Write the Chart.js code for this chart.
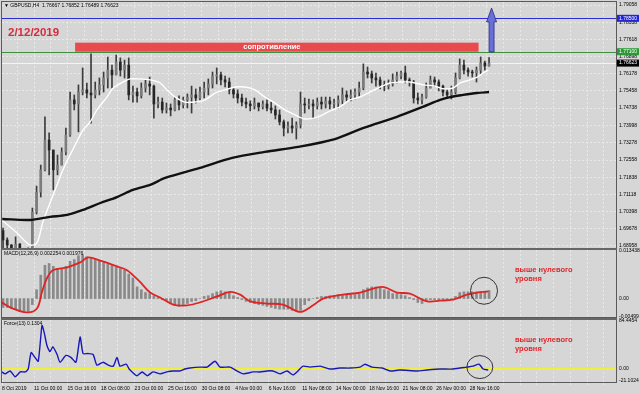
<!DOCTYPE html>
<html>
<head>
<meta charset="utf-8">
<script src="https://cdn.jsdelivr.net/npm/chart.js@4.4.1/dist/chart.umd.min.js"></script>
<style>
  body { margin: 0; background: #d6d6d6; width: 640px; height: 394px; overflow: hidden; position: relative; }
  canvas { position: absolute; left: 0; }
</style>
</head>
<body>
<canvas id="priceChart" width="640" height="250" style="top:0"></canvas>
<canvas id="macdChart" width="640" height="71" style="top:248px"></canvas>
<canvas id="forceChart" width="640" height="76" style="top:318px"></canvas>
<script>
// GBPUSD H4 — candles (one point ~ two H4 bars)
const highs = [
  1.6971,1.6930,1.6902,1.6934,1.6906,1.6884,1.6888,1.7055,1.7147,1.7235,
  1.7437,1.7370,1.7298,1.7277,1.7307,1.7390,1.7541,1.7529,1.7571,1.7642,
  1.7579,1.7701,1.7583,1.7600,1.7625,1.7688,1.7654,1.7696,1.7684,1.7675,
  1.7684,1.7566,1.7558,1.7579,1.7592,1.7604,1.7570,1.7520,1.7516,1.7495,
  1.7491,1.7520,1.7525,1.7520,1.7533,1.7566,1.7554,1.7562,1.7583,1.7596,
  1.7625,1.7642,1.7625,1.7608,1.7600,1.7558,1.7550,1.7533,1.7516,1.7504,
  1.7516,1.7495,1.7504,1.7508,1.7499,1.7483,1.7466,1.7424,1.7416,1.7432,
  1.7416,1.7541,1.7516,1.7512,1.7508,1.7516,1.7520,1.7520,1.7520,1.7512,
  1.7525,1.7558,1.7546,1.7550,1.7554,1.7583,1.7659,1.7646,1.7629,1.7621,
  1.7604,1.7587,1.7592,1.7617,1.7625,1.7629,1.7650,1.7600,1.7590,1.7537,
  1.7533,1.7579,1.7608,1.7604,1.7592,1.7570,1.7550,1.7566,1.7621,1.7680,
  1.7675,1.7642,1.7633,1.7646,1.7688,1.7671,1.7685
];
const lows = [
  1.6871,1.6871,1.6846,1.6858,1.6829,1.6816,1.6829,1.6871,1.7030,1.7101,
  1.7210,1.7194,1.7131,1.7194,1.7235,1.7277,1.7355,1.7466,1.7374,1.7529,
  1.7516,1.7411,1.7516,1.7529,1.7541,1.7558,1.7558,1.7613,1.7608,1.7600,
  1.7508,1.7499,1.7499,1.7516,1.7541,1.7529,1.7432,1.7474,1.7453,1.7453,
  1.7441,1.7462,1.7466,1.7474,1.7474,1.7453,1.7495,1.7508,1.7516,1.7529,
  1.7558,1.7575,1.7571,1.7562,1.7533,1.7516,1.7495,1.7483,1.7474,1.7462,
  1.7470,1.7462,1.7470,1.7462,1.7453,1.7428,1.7403,1.7357,1.7370,1.7370,
  1.7344,1.7390,1.7453,1.7470,1.7432,1.7470,1.7470,1.7474,1.7470,1.7474,
  1.7474,1.7491,1.7504,1.7504,1.7512,1.7525,1.7550,1.7600,1.7579,1.7566,
  1.7554,1.7546,1.7554,1.7566,1.7579,1.7596,1.7579,1.7566,1.7495,1.7491,
  1.7491,1.7515,1.7558,1.7566,1.7546,1.7525,1.7516,1.7512,1.7533,1.7596,
  1.7617,1.7608,1.7604,1.7583,1.7617,1.7633,1.7649
];
const closes = [
  1.6921,1.6900,1.6879,1.6904,1.6871,1.6858,1.6879,1.7038,1.7122,1.7215,
  1.7340,1.7298,1.7215,1.7235,1.7290,1.7361,1.7508,1.7491,1.7541,1.7550,
  1.7537,1.7529,1.7550,1.7571,1.7600,1.7633,1.7613,1.7667,1.7633,1.7654,
  1.7529,1.7541,1.7525,1.7558,1.7575,1.7566,1.7491,1.7499,1.7466,1.7474,
  1.7466,1.7508,1.7487,1.7508,1.7520,1.7529,1.7516,1.7541,1.7558,1.7575,
  1.7608,1.7613,1.7592,1.7583,1.7550,1.7533,1.7516,1.7499,1.7491,1.7483,
  1.7495,1.7479,1.7491,1.7474,1.7466,1.7445,1.7416,1.7390,1.7399,1.7390,
  1.7403,1.7491,1.7487,1.7491,1.7483,1.7499,1.7491,1.7504,1.7491,1.7495,
  1.7508,1.7529,1.7520,1.7529,1.7541,1.7558,1.7625,1.7617,1.7600,1.7592,
  1.7571,1.7566,1.7575,1.7592,1.7608,1.7621,1.7592,1.7583,1.7516,1.7508,
  1.7520,1.7558,1.7592,1.7583,1.7566,1.7541,1.7529,1.7541,1.7600,1.7654,
  1.7633,1.7625,1.7621,1.7633,1.7663,1.7650,1.7662
];
const firstOpen = 1.6960;

// moving averages, [bar index, price]
const maFast = [[-0.3,1.7005],[3.3,1.6951],[6.4,1.6900],[8.1,1.6909],[9.5,1.6997],[11.2,1.7076],[12.9,1.7152],
  [14.3,1.7215],[16.0,1.7277],[17.7,1.7336],[19.1,1.7382],[20.8,1.7416],[22.4,1.7466],[24.8,1.7520],[26.3,1.7558],
  [28.6,1.7583],[30.3,1.7596],[32.7,1.7596],[35.1,1.7592],[37.5,1.7579],[39.1,1.7550],[41.1,1.7520],[43.4,1.7499],
  [45.8,1.7499],[48.2,1.7508],[50.6,1.7537],[53.0,1.7550],[55.4,1.7562],[57.8,1.7562],[60.1,1.7550],[62.5,1.7520],
  [64.9,1.7495],[67.3,1.7466],[69.7,1.7445],[72.1,1.7428],[75.2,1.7437],[77.6,1.7458],[80.4,1.7479],[82.8,1.7508],
  [85.2,1.7520],[87.6,1.7541],[90.0,1.7562],[92.4,1.7579],[94.7,1.7583],[97.1,1.7583],[100.2,1.7571],[103.1,1.7566],
  [105.0,1.7555],[107.4,1.7558],[109.1,1.7579],[111.5,1.7592],[113.2,1.7604],[114.6,1.7621],[115.8,1.7633]];
const maSlow = [[-0.2,1.7009],[6.4,1.7005],[11.2,1.7018],[15.3,1.7026],[19.1,1.7047],[23.2,1.7076],[27.2,1.7101],
  [31.0,1.7131],[35.1,1.7152],[38.7,1.7181],[47.0,1.7223],[54.7,1.7265],[62.5,1.7290],[70.4,1.7311],[79.2,1.7344],
  [85.9,1.7390],[94.0,1.7437],[100.2,1.7479],[104.3,1.7508],[106.7,1.7520],[109.8,1.7529],[113.1,1.7537],[116.0,1.7541]];

const priceTicks = [1.79058,1.78338,1.77618,1.76898,1.76178,1.75458,1.74738,1.73998,1.73278,1.72558,1.71838,1.71118,1.70398,1.69678,1.68958];
const levelTarget = 1.78500;
const levelResist = 1.77100;
const lastPrice = 1.76623;
const zone = { from: 17.2, to: 113.5, low: 1.7710, high: 1.7748, label: 'сопротивление' };
const arrowAt = { x: 116.6, base: 1.7709, neck: 1.7835, tip: 1.7893 };
const dateNote = '2/12/2019';
const header = '\u25BC GBPUSD,H4  1.76667 1.76852 1.76489 1.76623';

// MACD(12,26,9)
const macdHist = [
  -0.0025,-0.0025,-0.0028,-0.0030,-0.0036,-0.0036,-0.0036,-0.0017,0.0025,0.0066,
  0.0094,0.0099,0.0091,0.0085,0.0085,0.0091,0.0105,0.0110,0.0121,0.0124,
  0.0118,0.0113,0.0110,0.0107,0.0102,0.0099,0.0094,0.0088,0.0085,0.0080,
  0.0069,0.0058,0.0033,0.0025,0.0017,0.0014,0.0008,0.0003,-0.0003,-0.0006,
  -0.0014,-0.0019,-0.0022,-0.0019,-0.0014,-0.0008,-0.0006,0.0000,0.0006,0.0008,
  0.0014,0.0019,0.0022,0.0019,0.0017,0.0008,0.0003,-0.0003,-0.0008,-0.0011,
  -0.0014,-0.0017,-0.0019,-0.0022,-0.0025,-0.0028,-0.0030,-0.0030,-0.0030,-0.0033,
  -0.0036,-0.0033,-0.0017,-0.0006,0.0000,0.0003,0.0006,0.0006,0.0008,0.0008,
  0.0011,0.0011,0.0011,0.0011,0.0011,0.0014,0.0025,0.0030,0.0033,0.0033,
  0.0030,0.0025,0.0022,0.0014,0.0014,0.0011,0.0008,0.0003,-0.0003,-0.0011,
  -0.0014,-0.0008,-0.0003,-0.0003,-0.0003,-0.0003,-0.0003,0.0000,0.0006,0.0017,
  0.0019,0.0019,0.0019,0.0019,0.0019,0.0021,0.0023
];
const macdSignal = [[-0.7,-0.0008],[1.7,-0.0025],[5.7,-0.0039],[8.1,-0.0028],[9.3,0.0019],[10.5,0.0058],[11.9,0.0080],
  [15.3,0.0088],[18.4,0.0102],[20.3,0.0116],[23.2,0.0107],[27.2,0.0091],[29.6,0.0080],[31.0,0.0066],[32.7,0.0047],
  [35.1,0.0017],[37.5,0.0003],[40.6,-0.0017],[43.9,-0.0019],[47.0,-0.0011],[51.1,0.0006],[54.2,0.0019],[56.6,0.0011],
  [59.0,-0.0008],[63.0,-0.0014],[66.8,-0.0017],[70.2,-0.0036],[71.6,-0.0036],[74.0,-0.0019],[76.4,0.0000],[81.1,0.0011],
  [85.2,0.0017],[90.5,0.0033],[94.0,0.0017],[97.1,0.0014],[101.2,-0.0008],[104.3,-0.0006],[107.4,-0.0003],
  [110.7,0.0011],[113.1,0.0017],[115.8,0.0020]];
const macdTicks = [0.013438, 0, -0.00499];
const macdTickLabels = ['0.013438', '0.00', '-0.00499'];
const macdTitle = 'MACD(12,26,9) 0.002254 0.001976';

// Force(13)
const forceLine = [[-0.7,-3.4],[0.5,-8.5],[1.7,-3.4],[2.9,-13.6],[4.1,-5.1],[5.3,-5.1],[6.0,0],[6.7,28.9],[7.6,20.4],
  [8.4,13.6],[9.3,76.6],[9.8,64.7],[10.5,40.8],[11.2,30.6],[11.9,39.1],[12.9,25.5],[13.6,11.9],[15.0,23.8],[16.2,20.4],
  [17.4,11.9],[18.4,56.2],[19.1,27.2],[20.3,27.2],[21.5,25.5],[22.4,6.8],[23.9,11.9],[25.1,6.8],[26.3,5.1],[27.2,20.4],
  [27.9,5.1],[29.4,8.5],[30.1,0],[30.8,-5.1],[32.0,-11.9],[33.2,-5.1],[34.4,-11.9],[35.8,-5.1],[37.5,-8.5],[39.1,-5.1],
  [40.6,-3.4],[42.2,-3.4],[43.4,0],[44.6,1.7],[47.0,3.4],[48.7,3.4],[50.6,13.6],[51.8,3.4],[54.2,3.4],[55.8,-3.4],
  [57.3,-8.5],[59.7,-5.1],[61.3,-5.1],[63.0,-3.4],[64.4,-3.4],[66.1,-8.5],[67.8,-3.4],[69.2,-10.2],[70.4,-3.4],
  [71.6,5.1],[73.3,3.4],[75.7,5.1],[78.0,0],[80.4,1.7],[82.8,1.7],[85.2,3.4],[86.4,8.5],[88.1,3.4],[90.5,1.7],
  [92.4,-3.4],[94.7,-1.7],[98.8,-3.4],[101.2,-1.7],[104.3,0],[107.4,0],[110.7,3.4],[112.2,5.1],[113.6,8.5],
  [114.6,0],[115.8,-1.7]];
const forceLevel = 0;
const forceTicks = [84.4454, 0, -21.1024];
const forceTickLabels = ['84.4454', '0.00', '-21.1024'];
const forceTitle = 'Force(13) 0.1304';

const noteLines = ['выше нулевого', 'уровня'];
const macdCircle = { x: 114.8, y: 0.0022 };
const forceCircle = { x: 113.8, y: 3.4 };

const dateTicks = [-0.25, 7.4, 15.4, 23.4, 31.4, 39.4, 47.4, 55.4, 63.4, 71.4, 79.4, 87.4, 95.4, 103.4, 111.4];
const dateLabels = ['8 Oct 2019', '11 Oct 00:00', '15 Oct 16:00', '18 Oct 08:00', '23 Oct 00:00', '25 Oct 16:00',
  '30 Oct 08:00', '4 Nov 00:00', '6 Nov 16:00', '11 Nov 08:00', '14 Nov 00:00', '18 Nov 16:00', '21 Nov 08:00',
  '26 Nov 00:00', '28 Nov 16:00'];

// ---- layout / look ----
const xMin = -0.25, xMax = 146.3;
const gridTicks = [];
for (let v = 3.4; v < xMax; v += 4) gridTicks.push(v);
const gridColor = 'rgba(238,238,238,0.8)';
const tickFont = { family: 'Liberation Sans', size: 5 };

const idx = closes.map((_, i) => i);
const opens = closes.map((c, i) => (i === 0 ? firstOpen : closes[i - 1])); // open = previous close
const pairs = arr => arr.map(([x, y]) => ({ x, y }));

// panel frame + thick separator on top of sub windows
const framePlugin = {
  id: 'frame',
  afterDraw(chart, args, opts) {
    const { ctx, chartArea: a } = chart;
    ctx.save();
    ctx.strokeStyle = '#5a5a5a';
    ctx.lineWidth = 1;
    ctx.strokeRect(a.left - 0.5, a.top - 0.5, a.right - a.left + 1, a.bottom - a.top + 1);
    if (opts.separator) {
      ctx.fillStyle = '#666';
      ctx.fillRect(a.left - 1, a.top - 2, a.right - a.left + 2, 2);
    }
    ctx.restore();
  }
};

function xScale(showDates) {
  return {
    type: 'linear', min: xMin, max: xMax, offset: false,
    afterBuildTicks: s => {
      const t = showDates ? [xMin].concat(gridTicks) : gridTicks;
      s.ticks = t.map(v => ({ value: v }));
    },
    afterFit: s => { s.height = showDates ? 12 : 0; s.paddingLeft = 0; s.paddingRight = 0; },
    ticks: {
      display: showDates, font: tickFont, color: '#000', align: 'start', padding: 1,
      autoSkip: false, maxRotation: 0, minRotation: 0,
      callback: v => {
        const k = dateTicks.findIndex(d => Math.abs(d - v) < 0.01);
        return k >= 0 ? dateLabels[k] : '';
      }
    },
    grid: { color: gridColor, drawTicks: showDates, tickLength: 3, offset: false },
    border: { display: false, dash: [2, 2] }
  };
}

function yScale(min, max, ticks, labels, showGrid) {
  return {
    position: 'right', min: min, max: max,
    afterBuildTicks: s => { s.ticks = ticks.map(v => ({ value: v })); },
    afterFit: s => { s.width = 24; s.paddingTop = 0; s.paddingBottom = 0; },
    ticks: {
      font: tickFont, color: '#000', padding: 3, autoSkip: false,
      callback: (v, i) => labels ? labels[i] : v.toFixed(5)
    },
    grid: { display: showGrid, color: gridColor, drawTicks: false },
    border: { display: false, dash: [2, 2] }
  };
}

function baseOptions(pad, scales, extra) {
  return {
    responsive: false, animation: false, events: [],
    layout: { padding: pad },
    plugins: Object.assign({ legend: { display: false }, tooltip: { enabled: false } }, extra),
    scales: scales
  };
}

// ---------- price window ----------
const pricePlugin = {
  id: 'priceNotes',
  beforeDatasetsDraw(chart) {
    const { ctx, chartArea: a, scales: { y } } = chart;
    ctx.save();
    [[levelTarget, '#2b2bd0'], [levelResist, '#3f8f3f'], [lastPrice, '#f4f4f4']].forEach(([v, c]) => {
      const py = Math.round(y.getPixelForValue(v)) + 0.5;
      ctx.strokeStyle = c; ctx.lineWidth = 1;
      ctx.beginPath(); ctx.moveTo(a.left, py); ctx.lineTo(a.right, py); ctx.stroke();
    });
    ctx.restore();
  },
  afterDatasetsDraw(chart) {
    const { ctx, chartArea: a, scales: { x, y } } = chart;
    ctx.save();
    // resistance zone
    const x1 = x.getPixelForValue(zone.from), x2 = x.getPixelForValue(zone.to);
    const y1 = y.getPixelForValue(zone.high), y2 = y.getPixelForValue(zone.low);
    ctx.fillStyle = '#e94a4e';
    ctx.fillRect(x1, y1, x2 - x1, y2 - y1);
    ctx.fillStyle = '#fff';
    ctx.font = 'bold 7.5px "Liberation Sans"';
    ctx.textAlign = 'center'; ctx.textBaseline = 'middle';
    ctx.fillText(zone.label, (x1 + x2) / 2 - 5, (y1 + y2) / 2);
    // arrow up
    const cx = x.getPixelForValue(arrowAt.x);
    const yb = y.getPixelForValue(arrowAt.base), yn = y.getPixelForValue(arrowAt.neck), yt = y.getPixelForValue(arrowAt.tip);
    ctx.beginPath();
    ctx.moveTo(cx - 2.5, yb); ctx.lineTo(cx - 2.5, yn); ctx.lineTo(cx - 5, yn); ctx.lineTo(cx, yt);
    ctx.lineTo(cx + 5, yn); ctx.lineTo(cx + 2.5, yn); ctx.lineTo(cx + 2.5, yb); ctx.closePath();
    ctx.fillStyle = '#6670d8'; ctx.fill();
    ctx.strokeStyle = '#2a2a80'; ctx.lineWidth = 0.8; ctx.stroke();
    // date note + header
    ctx.textAlign = 'left';
    ctx.fillStyle = '#d42b3f';
    ctx.font = 'bold 11.5px "Liberation Sans"';
    ctx.fillText(dateNote, a.left + 6, a.top + 31);
    ctx.fillStyle = '#000';
    ctx.font = '5px "Liberation Sans"';
    ctx.fillText(header, a.left + 2, a.top + 4);
    ctx.restore();
  },
  afterDraw(chart) {
    const { ctx, chartArea: a, scales: { y } } = chart;
    ctx.save();
    ctx.font = '5px "Liberation Sans"';
    ctx.textBaseline = 'middle';
    [[levelTarget, '#2424d8', '#fff'], [levelResist, '#2b9a35', '#fff'], [lastPrice, '#000', '#fff']].forEach(([v, bg, fg]) => {
      const py = y.getPixelForValue(v);
      ctx.fillStyle = bg;
      ctx.fillRect(a.right + 1, py - 3.5, chart.width - a.right - 2, 7);
      ctx.fillStyle = fg;
      ctx.fillText(v.toFixed(5), a.right + 3, py);
    });
    ctx.restore();
  }
};

new Chart(document.getElementById('priceChart'), {
  type: 'line',
  data: {
    datasets: [
      { type: 'line', data: pairs(maSlow), borderColor: '#111', borderWidth: 2.4, pointRadius: 0, tension: 0.3, order: 0 },
      { type: 'line', data: pairs(maFast), borderColor: '#ffffff', borderWidth: 1.4, pointRadius: 0, tension: 0.3, order: 1 },
      { type: 'bar', data: idx.map(i => ({ x: i, y: [opens[i], closes[i]] })),
        backgroundColor: idx.map(i => (closes[i] >= opens[i] ? '#7c7c7c' : '#262626')),
        barThickness: 2, grouped: false, minBarLength: 1, order: 2 },
      { type: 'bar', data: idx.map(i => ({ x: i, y: [lows[i], highs[i]] })),
        backgroundColor: '#3c3c3c', barThickness: 1, grouped: false, order: 3 }
    ]
  },
  options: baseOptions({ left: 2, top: 2, bottom: 2, right: 0 },
    { x: xScale(false), y: yScale(1.68874, 1.79184, priceTicks, null, true) }, { frame: { separator: false } }),
  plugins: [framePlugin, pricePlugin]
});

// ---------- sub windows ----------
function notesPlugin(id, title, circle, rx, ry) {
  return {
    id: id,
    afterDatasetsDraw(chart) {
      const { ctx, chartArea: a, scales: { x, y } } = chart;
      ctx.save();
      ctx.strokeStyle = '#333'; ctx.lineWidth = 1;
      ctx.beginPath();
      ctx.ellipse(x.getPixelForValue(circle.x), y.getPixelForValue(circle.y), rx, ry, 0, 0, Math.PI * 2);
      ctx.stroke();
      ctx.textBaseline = 'middle'; ctx.textAlign = 'left';
      ctx.fillStyle = '#000';
      ctx.font = '5px "Liberation Sans"';
      ctx.fillText(title, a.left + 2, a.top + 3.5);
      ctx.fillStyle = '#e0262c';
      ctx.font = 'bold 7.5px "Liberation Sans"';
      noteLines.forEach((t, k) => ctx.fillText(t, a.left + 513, a.top + 20 + k * 9));
      ctx.restore();
    }
  };
}

new Chart(document.getElementById('macdChart'), {
  type: 'line',
  data: {
    datasets: [
      { type: 'line', data: pairs(macdSignal), borderColor: '#e02424', borderWidth: 1.8, pointRadius: 0, tension: 0.35, order: 0 },
      { type: 'bar', data: idx.map(i => ({ x: i, y: macdHist[i] })), backgroundColor: '#8a8a8a',
        barThickness: 2, grouped: false, order: 1 }
    ]
  },
  options: baseOptions({ left: 2, top: 2, bottom: 2, right: 0 },
    { x: xScale(false), y: yScale(-0.0052, 0.0137, macdTicks, macdTickLabels, false) }, { frame: { separator: true } }),
  plugins: [framePlugin, notesPlugin('macdNotes', macdTitle, macdCircle, 13.5, 13.5)]
});

const levelPlugin = {
  id: 'forceLevel',
  beforeDatasetsDraw(chart) {
    const { ctx, chartArea: a, scales: { y } } = chart;
    const py = y.getPixelForValue(forceLevel);
    ctx.save();
    ctx.strokeStyle = '#f0f03c'; ctx.lineWidth = 2;
    ctx.beginPath(); ctx.moveTo(a.left, py); ctx.lineTo(a.right, py); ctx.stroke();
    ctx.restore();
  }
};

new Chart(document.getElementById('forceChart'), {
  type: 'line',
  data: {
    datasets: [
      { type: 'line', data: pairs(forceLine), borderColor: '#1818b8', borderWidth: 1.4, pointRadius: 0, tension: 0.2 }
    ]
  },
  options: baseOptions({ left: 2, top: 2, bottom: 0, right: 0 },
    { x: xScale(true), y: yScale(-22.8, 86.15, forceTicks, forceTickLabels, false) }, { frame: { separator: true } }),
  plugins: [framePlugin, levelPlugin, notesPlugin('forceNotes', forceTitle, forceCircle, 13, 11.5)]
});
</script>
</body>
</html>
